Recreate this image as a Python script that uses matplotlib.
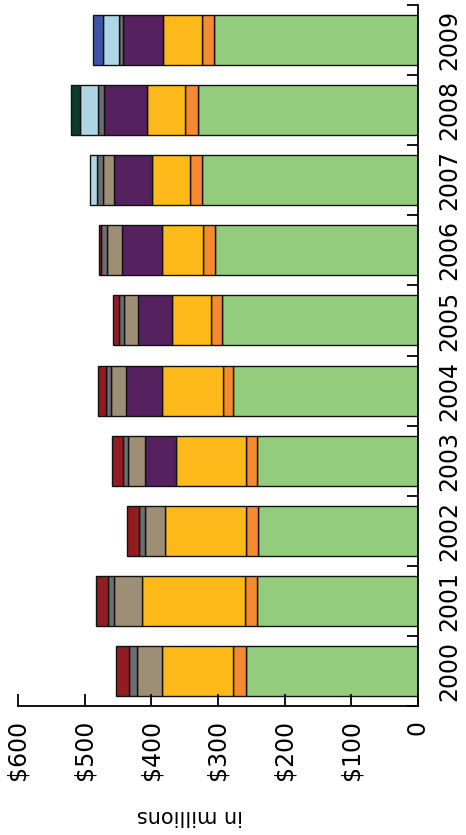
import numpy as np
import matplotlib.pyplot as plt

plt.rcParams["font.family"] = ["DejaVu Sans"]

years = ["2000", "2001", "2002", "2003", "2004", "2005", "2006", "2007", "2008", "2009"]

# spending by category, in millions (stacked from the axis outward)
green = [258, 242, 240, 241, 277, 293.5, 304.5, 323.5, 329.5, 305.5]
orange = [19, 17.5, 18.5, 17.5, 16, 17, 17.5, 18.5, 20, 18]
yellow = [107.5, 155, 121, 105, 90.5, 59, 62.5, 57.5, 57.5, 58.5]
purple = [0, 0, 0, 46, 55, 50, 60, 56.5, 64, 60]
tan = [37.5, 41, 29.5, 26, 22, 21.5, 22.5, 17, 0, 0]
gray = [11, 9, 9, 6.5, 7.5, 7, 8.5, 8, 8.5, 6]
darkred = [20, 18.5, 19, 16.5, 11.5, 9, 2.5, 0, 0, 0]
lightblue = [0, 0, 0, 0, 0, 0, 0, 11, 27.5, 24]
teal = [0, 0, 0, 0, 0, 0, 0, 0, 13.5, 0]
blue = [0, 0, 0, 0, 0, 0, 0, 0, 0, 15]

series = [
    (green, "#94cc7e"),
    (orange, "#f58a2f"),
    (yellow, "#fdb91a"),
    (purple, "#55215f"),
    (tan, "#9d8f75"),
    (gray, "#6d6e72"),
    (darkred, "#931c21"),
    (lightblue, "#aed6e5"),
    (teal, "#0e3a2f"),
    (blue, "#3d55a5"),
]

fig = plt.figure(figsize=(4.66, 8.35), dpi=100)
ax = fig.add_axes([18 / 466, (835 - 706) / 835, 400 / 466, (706 - 5) / 835])

pos = np.arange(len(years))
left = np.zeros(len(years))
for vals, col in series:
    vals = np.array(vals, dtype=float)
    m = vals > 0
    ax.barh(pos[m], vals[m], left=left[m], height=0.714, color=col,
            edgecolor="#111111", linewidth=1.0)
    left += vals

ax.set_xlim(600, 0)
ax.set_ylim(-0.5, 9.5)

ax.spines["top"].set_visible(False)
ax.spines["left"].set_visible(False)
ax.spines["right"].set_linewidth(1.3)
ax.spines["bottom"].set_linewidth(1.3)

ax.yaxis.tick_right()
ax.set_yticks(pos)
ax.set_yticklabels(years, rotation=90, va="center", ha="left", fontsize=17)
ax.set_yticks(np.arange(-0.5, 10, 1), minor=True)
ax.tick_params(axis="y", which="major", length=0, pad=14)
ax.tick_params(axis="y", which="minor", direction="in", length=8, width=1.3)

ax.set_xticks([600, 500, 400, 300, 200, 100, 0])
ax.set_xticklabels(["$600", "$500", "$400", "$300", "$200", "$100", "0"],
                   rotation=90, fontsize=17)
ax.tick_params(axis="x", direction="in", length=9, width=1.3, pad=10)

fig.text(190 / 466, 1 - 816 / 835, "in millions", rotation=180,
         ha="center", va="center", fontsize=15)

fig.savefig("out.png", dpi=100)
